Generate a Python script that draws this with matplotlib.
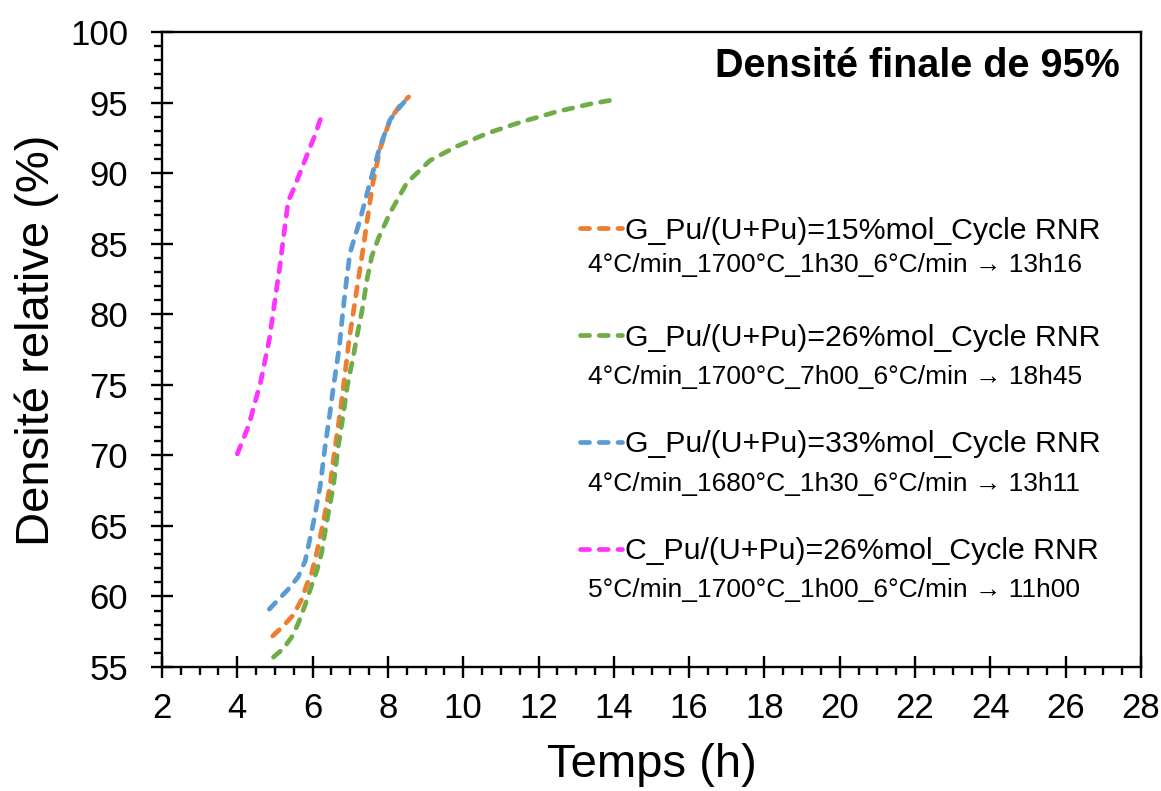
import matplotlib
matplotlib.use("Agg")
import matplotlib.pyplot as plt
from matplotlib.ticker import MultipleLocator

plt.rcParams['font.family'] = ['Liberation Sans', 'DejaVu Sans']
plt.rcParams['lines.scale_dashes'] = False

# ---- data ----
orange_t = [4.94, 5.22, 5.49, 5.71, 5.84, 5.98, 6.11, 6.28, 6.46, 6.6, 6.73, 6.82, 6.97, 7.08,
            7.21, 7.35, 7.48, 7.6, 7.8, 8.06, 8.32, 8.55]
orange_d = [57.2, 57.9, 58.7, 59.8, 60.8, 61.7, 63.1, 65.2, 67.8, 70.6, 73.0, 74.9, 78.2, 80.1,
            82.4, 84.8, 87.2, 89.3, 91.8, 93.8, 94.8, 95.4]

green_t = [4.96, 5.22, 5.44, 5.62, 5.8, 5.95, 6.11, 6.24, 6.37, 6.55, 6.68, 6.82, 6.92, 7.08,
           7.21, 7.33, 7.44, 7.57, 7.75, 8.06, 8.5, 9.12, 9.83, 10.62, 11.51, 12.48, 13.37, 14.0]
green_d = [55.7, 56.3, 57.1, 58.1, 59.4, 60.6, 61.8, 63.1, 65.2, 67.8, 70.6, 73.0, 74.9, 77.0,
           78.9, 80.5, 82.4, 84.1, 85.4, 87.2, 89.3, 90.9, 91.9, 92.8, 93.6, 94.35, 94.9, 95.2]

blue_t = [4.85, 5.1, 5.35, 5.62, 5.8, 6.02, 6.2, 6.33, 6.46, 6.55, 6.71, 6.8, 6.9, 6.99,
          7.1, 7.26, 7.52, 7.79, 8.06, 8.32, 8.52]
blue_d = [59.1, 59.8, 60.5, 61.4, 62.5, 65.2, 67.8, 70.6, 73.0, 74.8, 77.7, 80.1, 82.4, 84.3,
          85.3, 86.7, 89.3, 91.9, 93.8, 94.7, 95.3]

pink_t = [4.0, 4.3, 4.62, 4.85, 5.0, 5.13, 5.22, 5.35, 5.5, 5.84, 6.05, 6.27]
pink_d = [70.1, 72.1, 75.2, 78.2, 81.0, 83.4, 85.3, 88.0, 88.9, 91.2, 92.6, 94.3]

labels = ["G_Pu/(U+Pu)=15%mol_Cycle RNR",
          "G_Pu/(U+Pu)=26%mol_Cycle RNR",
          "G_Pu/(U+Pu)=33%mol_Cycle RNR",
          "C_Pu/(U+Pu)=26%mol_Cycle RNR"]
sublabels = ["4°C/min_1700°C_1h30_6°C/min \u2192 13h16",
             "4°C/min_1700°C_7h00_6°C/min \u2192 18h45",
             "4°C/min_1680°C_1h30_6°C/min \u2192 13h11",
             "5°C/min_1700°C_1h00_6°C/min \u2192 11h00"]
colors = ['#ED7D31', '#70AD47', '#5B9BD5', '#FF33FF']

title_txt = "Densité finale de 95%"
xlabel = "Temps (h)"
ylabel = "Densité relative (%)"

# ---- figure ----
fig = plt.figure(figsize=(11.61, 7.91), dpi=100)
ax = fig.add_axes([162/1161, 1-667/791, 979/1161, 635/791])

series = [(orange_t, orange_d), (green_t, green_d), (blue_t, blue_d), (pink_t, pink_d)]
handles = []
for (t, d), c, lab in zip(series, colors, labels):
    h, = ax.plot(t, d, color=c, lw=3.4, dashes=(6.5, 7), dash_capstyle='round',
                 solid_capstyle='round', label=lab)
    handles.append(h)

ax.set_xlim(2, 28)
ax.set_ylim(55, 100)
ax.xaxis.set_major_locator(MultipleLocator(2))
ax.xaxis.set_minor_locator(MultipleLocator(0.5))
ax.yaxis.set_major_locator(MultipleLocator(5))
ax.yaxis.set_minor_locator(MultipleLocator(1))

for s in ax.spines.values():
    s.set_linewidth(1.7)
    s.set_color('black')

ax.tick_params(which='major', direction='inout', length=16.5, width=1.7,
               labelsize=25, top=False, right=False)
ax.tick_params(which='minor', direction='out', length=6, width=1.7, top=False, right=False)
ax.tick_params(axis='y', which='major', pad=16)
ax.tick_params(axis='x', which='major', pad=10)

ax.set_xlabel(xlabel, fontsize=34, va='center')
ax.set_ylabel(ylabel, fontsize=34, va='center')
ax.xaxis.set_label_coords(0.5, (667-765)/635)
ax.yaxis.set_label_coords((37-162)/979, (667-340)/635)

ax.text((1120-162)/979, (667-66)/635, title_txt, transform=ax.transAxes,
        ha='right', va='center', fontsize=28.5, fontweight='bold')

leg = ax.legend(handles=handles, loc='upper left',
                bbox_to_anchor=((580-162)/979, (667-217)/635),
                frameon=False, fontsize=21.8, handlelength=1.4, handletextpad=0.1,
                labelspacing=2.6, borderpad=0, borderaxespad=0)

sub_y = [265, 377, 484, 590]
for yy, s in zip(sub_y, sublabels):
    ax.text((588-162)/979, (667-yy)/635, s, transform=ax.transAxes,
            ha='left', va='center', fontsize=19)

fig.savefig("out.png", dpi=100)
